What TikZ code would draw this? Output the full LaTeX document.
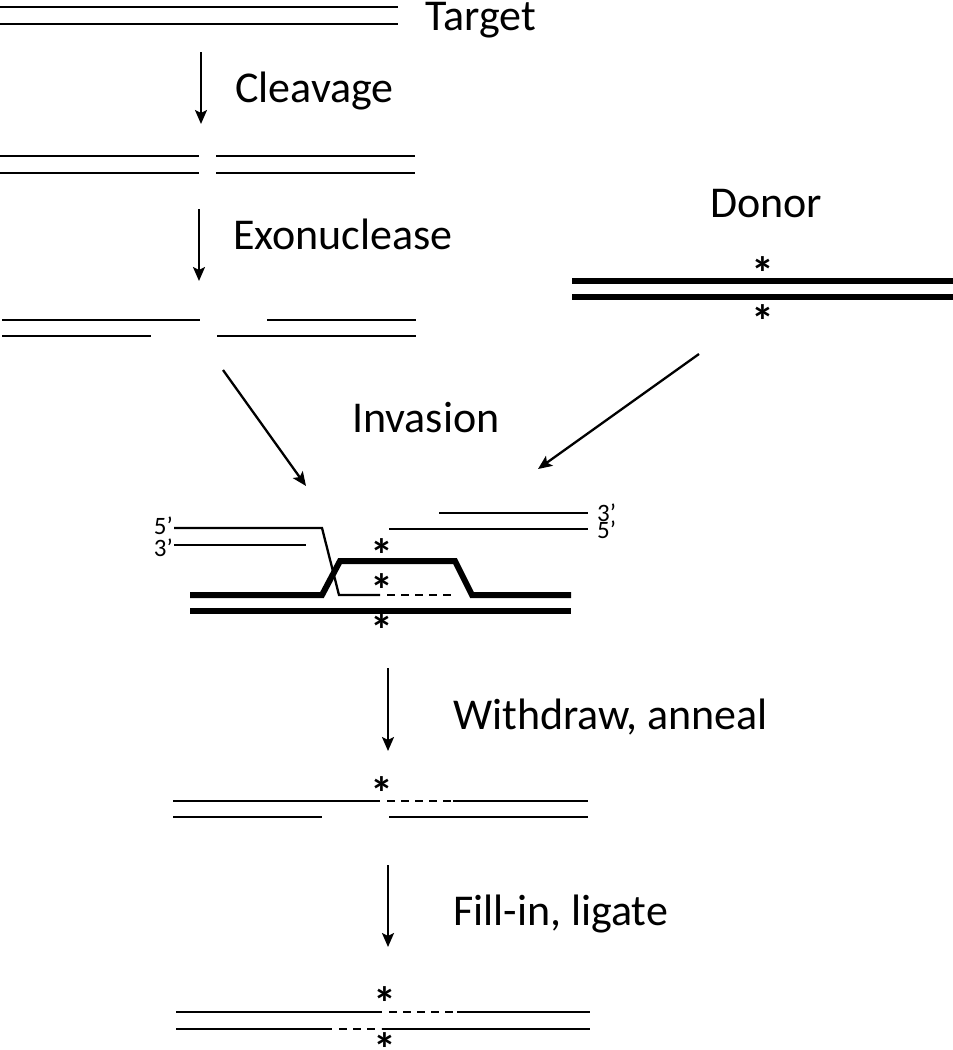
\documentclass[tikz,border=0pt]{standalone}
\usepackage{fontspec}
\setmainfont{Carlito}
\usetikzlibrary{arrows.meta}
\begin{document}
\begin{tikzpicture}[x=1pt,y=-1pt,
  thin strand/.style={line width=2.3pt},
  thick strand/.style={line width=6pt},
  dash strand/.style={line width=2.3pt,dash pattern=on 8pt off 6pt},
  steparrow/.style={line width=2.3pt,-{Stealth[length=14pt,width=12pt,inset=3pt]}},
  label/.style={anchor=base west,inner sep=0pt,font=\fontsize{44}{50}\selectfont},
  endlabel/.style={inner sep=0pt,text height=11pt,text depth=0pt,font=\fontsize{25}{28}\selectfont},
  ast/.style={anchor=center,inner sep=0pt,text height=6pt,text depth=6pt,font=\fontsize{46}{50}\selectfont\bfseries}]
\newcommand{\astk}{\raisebox{-24pt}{*}}
\useasboundingbox (0,0) rectangle (953,1050);
% Target
\draw[thin strand] (0,7) -- (398,7);
\draw[thin strand] (0,24) -- (398,24);
\node[label] (target) at (425,30) {Target};
% Cleavage
\coordinate (c1s) at (201,52); \coordinate (c1e) at (201,124);
\draw[steparrow] (c1s) -- (c1e);
\node[label] (cleavage) at (235,102) {Cleavage};
\draw[thin strand] (0,156) -- (199,156);
\draw[thin strand] (216,156) -- (415,156);
\draw[thin strand] (0,173) -- (199,173);
\draw[thin strand] (216,173) -- (415,173);
% Exonuclease
\coordinate (c2s) at (199,209); \coordinate (c2e) at (199,281);
\draw[steparrow] (c2s) -- (c2e);
\node[label] (exo) at (233,249) {Exonuclease};
\draw[thin strand] (2,320) -- (200,320);
\draw[thin strand] (267,320) -- (416,320);
\draw[thin strand] (2,336) -- (151,336);
\draw[thin strand] (217,336) -- (416,336);
% Donor
\node[label] (donor) at (710,217) {Donor};
\draw[thick strand] (572,281) -- (953,281);
\draw[thick strand] (572,297) -- (953,297);
\node[ast] (d1) at (763,265) {\astk};
\node[ast] (d2) at (763,313) {\astk};
% Invasion
\coordinate (i1s) at (223,370); \coordinate (i1e) at (306,486);
\coordinate (i2s) at (699,354); \coordinate (i2e) at (538,469);
\draw[steparrow] (i1s) -- (i1e);
\draw[steparrow] (i2s) -- (i2e);
\node[label] (invasion) at (352,432) {Invasion};
% invasion intermediate
\draw[thick strand,line join=miter] (190,595) -- (322,595) -- (340,561) -- (455,561) -- (472,595) -- (571,595);
\draw[thick strand] (190,611) -- (571,611);
\draw[thin strand] (174,528) -- (322,528) -- (339,595) -- (380,595);
\draw[dash strand] (387,595) -- (453,595);
\draw[thin strand] (174,545) -- (306,545);
\draw[thin strand] (439,513) -- (588,513);
\draw[thin strand] (389,529) -- (588,529);
\node[endlabel,anchor=base east] (l5) at (173,534) {5’};
\node[endlabel,anchor=base east] (l3) at (173,556) {3’};
\node[endlabel,anchor=base west] (r3) at (597,521) {3’};
\node[endlabel,anchor=base west] (r5) at (597,538) {5’};
\node[ast] (ia1) at (382,547) {\astk};
\node[ast] (ia2) at (382,582) {\astk};
\node[ast] (ia3) at (382,622) {\astk};
% Withdraw, anneal
\coordinate (w1s) at (388,668); \coordinate (w1e) at (388,751);
\draw[steparrow] (w1s) -- (w1e);
\node[label] (withdraw) at (453,729) {Withdraw, anneal};
\draw[thin strand] (173,801) -- (380,801);
\draw[dash strand] (387,801) -- (453,801);
\draw[thin strand] (453,801) -- (588,801);
\draw[thin strand] (173,817) -- (322,817);
\draw[thin strand] (389,817) -- (588,817);
\node[ast] (wa) at (382,785) {\astk};
% Fill-in, ligate
\coordinate (f1s) at (388,865); \coordinate (f1e) at (388,947);
\draw[steparrow] (f1s) -- (f1e);
\node[label] (fill) at (453,925) {Fill-in, ligate};
\draw[thin strand] (176,1012) -- (382,1012);
\draw[dash strand] (389,1012) -- (457,1012);
\draw[thin strand] (457,1012) -- (590,1012);
\draw[thin strand] (176,1029) -- (332,1029);
\draw[dash strand] (339,1029) -- (381,1029);
\draw[thin strand] (382,1029) -- (590,1029);
\node[ast] (fa1) at (385,995) {\astk};
\node[ast] (fa2) at (385,1041) {\astk};
\end{tikzpicture}
\end{document}
